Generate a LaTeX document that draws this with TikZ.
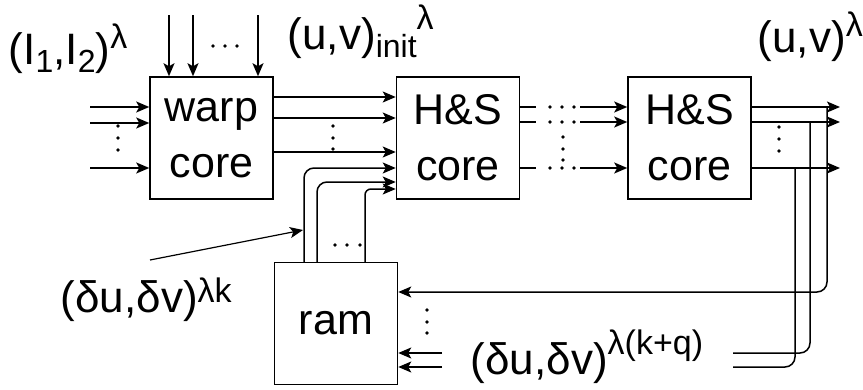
\documentclass[tikz,border=0pt]{standalone}
\usepackage{fontspec}
\setmainfont{Liberation Sans}
\usetikzlibrary{arrows.meta, positioning, calc}

% raised and lowered indices of the labels
\newcommand\sups[2][16pt]{\raisebox{#1}{\fontsize{34}{34}\selectfont #2}}
\newcommand\subs[1]{\raisebox{-8pt}{\fontsize{32}{32}\selectfont #1}}

\tikzset{
  block/.style = {draw, minimum width=123pt, minimum height=122pt, inner sep=0pt,
    align=center, font=\fontsize{43}{56}\selectfont},
  lbl/.style = {inner sep=0pt, anchor=base west, font=\fontsize{44}{50}\selectfont},
  dot/.style = {circle, fill, inner sep=0pt, minimum size=3.6pt},
}

\begin{document}
\begin{tikzpicture}[>={Stealth[length=13pt, width=11pt, inset=3pt]}, x=1pt, y=-1pt, line width=1.5pt]
    \useasboundingbox (0,0) rectangle (863,389);

    % cores and memory
    \node[block] (warp) at (211.5,138) {warp\\core};
    \node[block, right = 122pt of warp] (hs1) {H\&S\\core};
    \node[block, right = 107pt of hs1] (hs2) {H\&S\\core};
    \node[block, below right = 62pt and 0pt of warp.south east] (ram) {ram};

    % images into warp core
    \foreach \y [count=\i] in {107,123,168} {
      \coordinate (win\i) at (90,\y);
      \draw[->] (win\i) -- (win\i -| warp.west);
    }
    \foreach \y in {126,138,150} \node[dot] at (118,\y) {};
    \node[lbl] (img) at (8,64) {(I\subs{1},I\subs{2})\sups{λ}};

    % initial flow into warp core
    \foreach \x [count=\i] in {169,193,258} {
      \coordinate (wtop\i) at (\x,15);
      \draw[->] (wtop\i) -- (wtop\i |- warp.north);
    }
    \foreach \x in {213,225,237} \node[dot] at (\x,46) {};
    \node[lbl] (uvinit) at (287,49) {(u,v)\subs{init}\sups[20pt]{λ}};

    % warp core to first H&S core
    \foreach \y in {97,118,152}
      \draw[->] (warp.east |- 0,\y) -- (hs1.west |- 0,\y);
    \foreach \y in {126,138,149} \node[dot] at (333,\y) {};

    % ram to first H&S core
    \draw[->, rounded corners=10pt] (ram.north -| 304,0) |- (hs1.west |- 0,168);
    \draw[->, rounded corners=10pt] (ram.north -| 317,0) |- (hs1.west |- 0,182);
    \draw[->, rounded corners=6pt] (ram.north -| 365,0) |- (hs1.west |- 0,189);
    \foreach \x in {335,347,360} \node[dot] at (\x,245) {};
    \node[lbl] (dlk) at (60,312) {(δu,δv)\sups[10pt]{λk}};
    \coordinate (dkfrom) at (150,260);
    \coordinate (dkto) at (303,230);
    \draw[->, line width=1.2pt] (dkfrom) -- (dkto);

    % first H&S core to last H&S core
    \foreach \y in {107,122,168} {
      \draw (hs1.east |- 0,\y) -- ++(16,0);
      \foreach \x in {550,562,574} \node[dot] at (\x,\y) {};
      \coordinate (hsin) at (580,\y);
      \draw[->] (hsin) -- (hsin -| hs2.west);
    }
    \foreach \y in {137,149,160} \node[dot] at (563,\y) {};

    % outputs of last H&S core
    \foreach \y [count=\i] in {107,122,168} {
      \coordinate (out\i) at (840,\y);
      \draw[->] (hs2.east |- out\i) -- (out\i);
    }
    \foreach \y in {127,139,151} \node[dot] at (779,\y) {};
    \node[lbl] (uv) at (757,52) {(u,v)\sups{λ}};

    % feedback to ram
    \draw[->, rounded corners=10pt] (827,107) |- (ram.east |- 0,292);
    \draw[rounded corners=10pt] (810,122) |- (733,353);
    \draw[rounded corners=10pt] (795,168) |- (733,367);
    \foreach \y in {353,367} {
      \coordinate (fb) at (442,\y);
      \draw[->] (fb) -- (fb -| ram.east);
    }
    \foreach \y in {310,322,333} \node[dot] at (427,\y) {};
    \node[lbl] (dlkq) at (470,374) {(δu,δv)\sups[20pt]{λ(k+q)}};

\end{tikzpicture}
\end{document}
